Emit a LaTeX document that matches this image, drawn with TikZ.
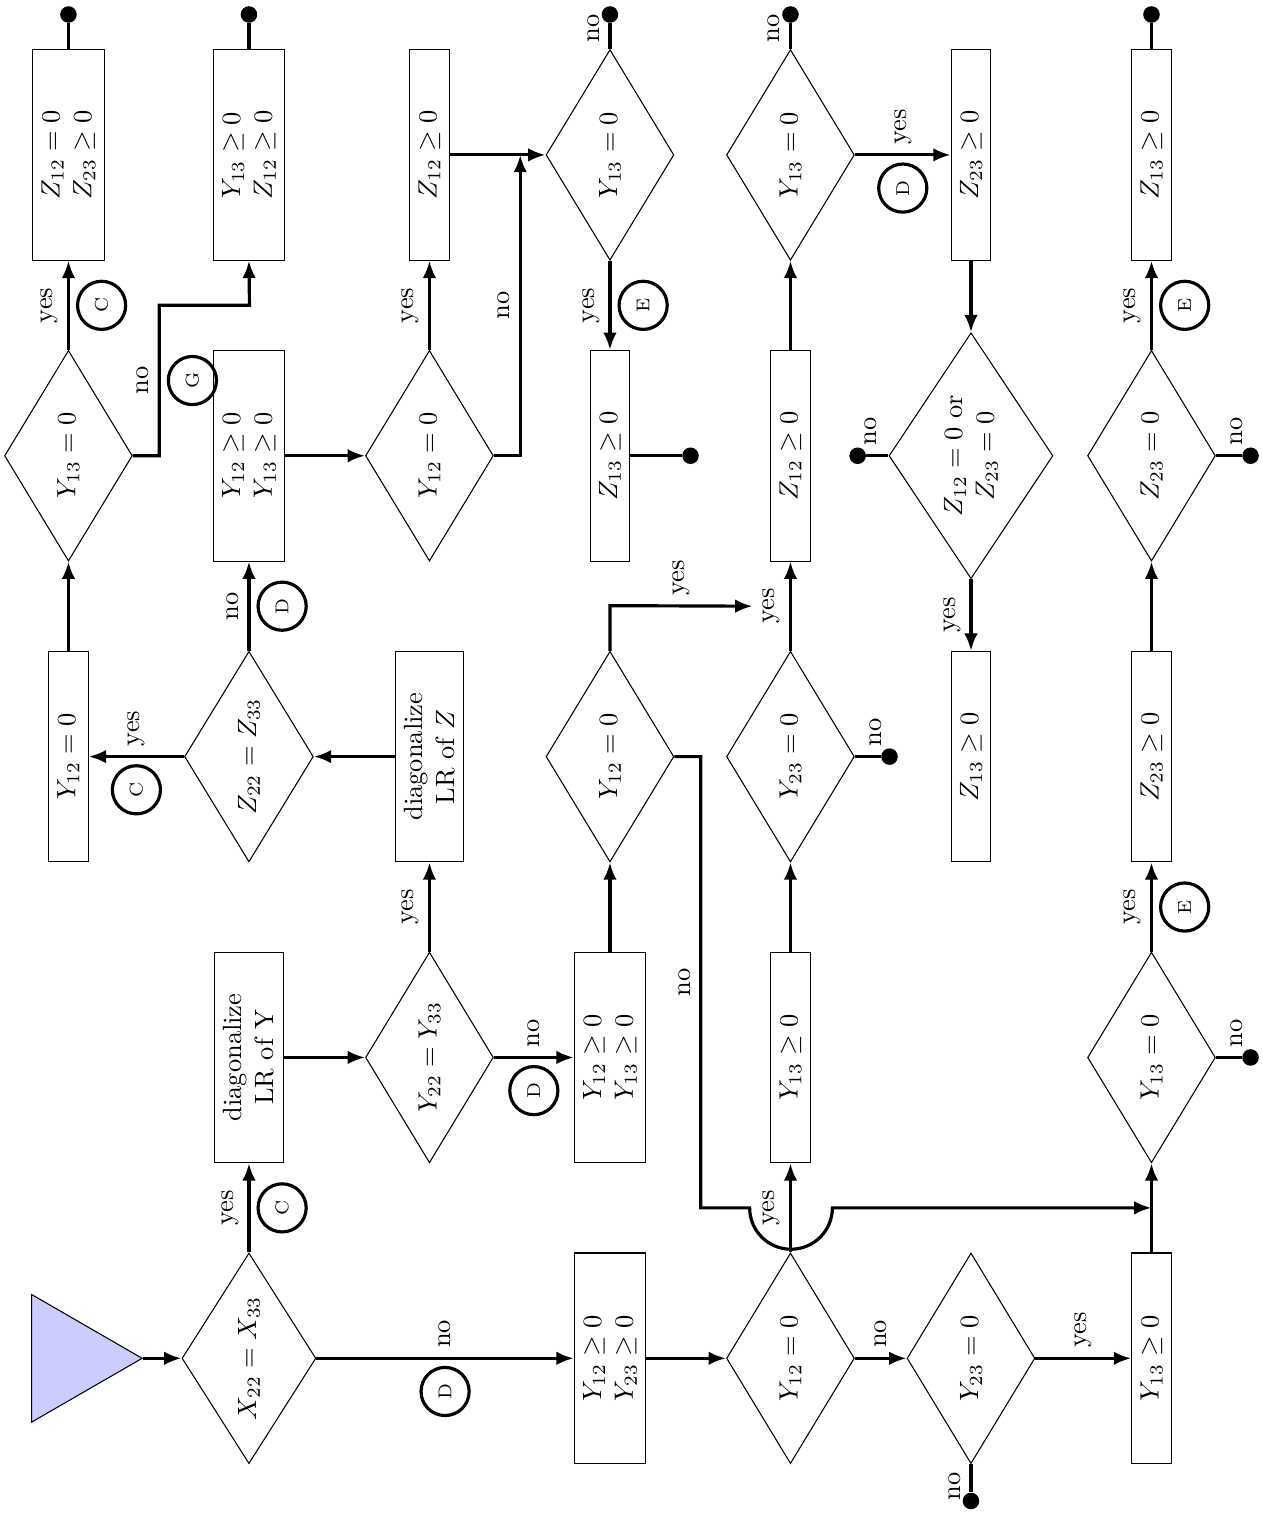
\documentclass[tikz,border=0pt]{standalone}
\usetikzlibrary{arrows.meta,calc,shapes.geometric}

\begin{document}
\begin{tikzpicture}[rotate=90, transform shape, >={Latex[length=2.3mm,width=1.8mm]},
  proc/.style={draw, rectangle, minimum width=2.8cm, align=center},
  cond/.style={draw, diamond, aspect=1.5, minimum width=2.8cm, minimum height=1.7cm, align=center},
  link/.style={very thick, ->},
  stub/.style={very thick},
  enddot/.style={circle, fill, inner sep=0pt, minimum size=2.2mm},
  casetag/.style={circle, draw, very thick, inner sep=0pt, minimum size=6.4mm, font=\scriptsize}]
  \useasboundingbox (-2.07,-13.47) rectangle (18.06,3.31);

  % Start marker.
  \node[regular polygon, regular polygon sides=3, shape border rotate=180, draw, fill=blue!20,
        minimum size=1.96cm, inner sep=0pt] (start) at (0,2.4) {};

  % First column of tests.
  \node[cond] (x22) at (0,0) {$X_{22} = X_{33}$};
  \node[proc] (y12y23) at (0,-4.8) {$Y_{12} \geq 0$\\ $Y_{23} \geq 0$};
  \node[cond] (y12a) at (0,-7.2) {$Y_{12} = 0$};
  \node[cond] (y23a) at (0,-9.6) {$Y_{23} = 0$};
  \node[proc] (y13ge) at (0,-12) {$Y_{13} \geq 0$};

  % Second column.
  \node[proc] (diagY) at (4,0) {diagonalize\\ LR of Y};
  \node[cond] (y22) at (4,-2.4) {$Y_{22} = Y_{33}$};
  \node[proc] (y12y13a) at (4,-4.8) {$Y_{12} \geq 0$\\ $Y_{13} \geq 0$};
  \node[proc] (y13gea) at (4,-7.2) {$Y_{13} \geq 0$};
  \node[cond] (y13a) at (4,-12) {$Y_{13} = 0$};

  % Third column.
  \node[proc] (y12eq) at (8,2.4) {$Y_{12} = 0$};
  \node[cond] (z22) at (8,0) {$Z_{22} = Z_{33}$};
  \node[proc] (diagZ) at (8,-2.4) {diagonalize\\ LR of $Z$};
  \node[cond] (y12b) at (8,-4.8) {$Y_{12} = 0$};
  \node[cond] (y23b) at (8,-7.2) {$Y_{23} = 0$};
  \node[proc] (z13gea) at (8,-9.6) {$Z_{13} \geq 0$};
  \node[proc] (z23gea) at (8,-12) {$Z_{23} \geq 0$};

  % Fourth column.
  \node[cond] (y13b) at (12,2.4) {$Y_{13} = 0$};
  \node[proc] (y12y13b) at (12,0) {$Y_{12} \geq 0$\\ $Y_{13} \geq 0$};
  \node[cond] (y12c) at (12,-2.4) {$Y_{12} = 0$};
  \node[proc] (z13geb) at (12,-4.8) {$Z_{13} \geq 0$};
  \node[proc] (z12gea) at (12,-7.2) {$Z_{12} \geq 0$};
  \node[cond] (zor) at (12,-9.6) {$Z_{12} = 0$ or\\ $Z_{23} = 0$};
  \node[cond] (z23) at (12,-12) {$Z_{23} = 0$};

  % Last column.
  \node[proc] (z12z23) at (16,2.4) {$Z_{12} = 0$\\ $Z_{23} \geq 0$};
  \node[proc] (y13z12) at (16,0) {$Y_{13} \geq 0$\\ $Z_{12} \geq 0$};
  \node[proc] (z12geb) at (16,-2.4) {$Z_{12} \geq 0$};
  \node[cond] (y13c) at (16,-4.8) {$Y_{13} = 0$};
  \node[cond] (y13d) at (16,-7.2) {$Y_{13} = 0$};
  \node[proc] (z23geb) at (16,-9.6) {$Z_{23} \geq 0$};
  \node[proc] (z13gec) at (16,-12) {$Z_{13} \geq 0$};

  % End points.
  \node[enddot] (end1) at ($(z12z23.east)+(0.46,0)$) {};
  \node[enddot] (end2) at ($(y13z12.east)+(0.46,0)$) {};
  \node[enddot] (end3) at ($(y13c.east)+(0.46,0)$) {};
  \node[enddot] (end4) at ($(y13d.east)+(0.46,0)$) {};
  \node[enddot] (end5) at ($(z13gec.east)+(0.46,0)$) {};
  \node[enddot] (end6) at ($(z13geb.south)+(0,-0.8)$) {};
  \node[enddot] (end7) at ($(zor.north)+(0,0.41)$) {};
  \node[enddot] (end8) at ($(z23.south)+(0,-0.46)$) {};
  \node[enddot] (end9) at ($(y23b.south)+(0,-0.46)$) {};
  \node[enddot] (end10) at ($(y13a.south)+(0,-0.46)$) {};
  \node[enddot] (end11) at ($(y23a.west)+(-0.49,0)$) {};
  \coordinate (join1) at ($(y13ge.east)!.5!(y13a.west)$);

  % Connectors, first column.
  \draw[link] (start) -- (x22);
  \draw[link] (x22.east) -- (diagY.west) node[midway,above] (l1) {yes}
    node[midway,below=1mm,casetag] (t1) {C};
  \draw[link] (x22.south) -- (y12y23.north) node[midway,right] (l2) {no}
    node[midway,left=1mm,casetag] (t2) {D};
  \draw[link] (y12y23.south) -- (y12a.north);
  \draw[link] (y12a.south) -- (y23a.north) node[midway,right] (l3) {no};
  \draw[link] (y23a.south) -- (y13ge.north) node[midway,right] (l4) {yes};
  \draw[stub] (y23a.west) -- (end11) node[pos=0.8,above] (l5) {no};
  \draw[link] (y12a.east) -- (y13gea.west) node[midway,above] (l6) {yes};
  \draw[link] (y13ge.east) -- (y13a.west);

  % Second column.
  \draw[link] (diagY.south) -- (y22.north);
  \draw[link] (y22.east) -- (diagZ.west) node[midway,above] (l7) {yes};
  \draw[link] (y22.south) -- (y12y13a.north) node[midway,right] (l8) {no}
    node[midway,left=1mm,casetag] (t3) {D};
  \draw[link] (y12y13a.east) -- (y12b.west);
  \draw[link] (y13gea.east) -- (y23b.west);
  \draw[link] (y13a.east) -- (z23gea.west) node[midway,above] (l9) {yes}
    node[midway,below=1mm,casetag] (t4) {E};
  \draw[stub] (y13a.south) -- (end10) node[pos=0.8,right] (l10) {no};

  % Third column.
  \draw[link] (diagZ.north) -- (z22.south);
  \draw[link] (z22.north) -- (y12eq.south) node[midway,right] (l11) {yes}
    node[midway,left=1mm,casetag] (t5) {C};
  \draw[link] (z22.east) -- (y12y13b.west) node[midway,above] (l12) {no}
    node[midway,below=1mm,casetag] (t6) {D};
  \draw[link] (y12eq.east) -- (y13b.west);
  \draw[link] (y23b.east) -- (z12gea.west) node[midway,above] (l13) {yes};
  \draw[link] (y12b.east) -- ++(0.6,0) -- (l13.north) node[midway,right] (l14) {yes};
  % The no branch jumps over the yes line on its way down.
  \draw[link] (y12b.south) -- ++(0,-0.35) -- ++(-6,0) node[midway,above] (l15) {no}
    -- ++(0,-0.65) arc[start angle=90, end angle=270, radius=0.55] -- (join1);
  \draw[stub] (y23b.south) -- (end9) node[pos=0.8,right] (l16) {no};
  \draw[link] (z23gea.east) -- (z23.west);

  % Fourth column.
  \draw[link] (y13b.east) -- (z12z23.west) node[midway,above] (l17) {yes}
    node[midway,below=1mm,casetag] (t7) {C};
  \draw[link] (y13b.south) -- ++(0,-0.35) -- ++(2,0) node[midway,above] (l18) {no}
    node[midway,below=1mm,casetag] (t8) {G} -- ++(0,-1.2) -- (y13z12.west);
  \draw[link] (y12y13b.south) -- (y12c.north);
  \draw[link] (y12c.east) -- (z12geb.west) node[midway,above] (l19) {yes};
  \draw[link] (y12c.south) -- ++(0,-0.35) -- ++(4,0) node[midway,above] (l20) {no};
  \draw[stub] (z13geb.south) -- (end6);
  \draw[link] (z12gea.east) -- (y13d.west);
  \draw[stub] (zor.north) -- (end7) node[pos=0.8,right] (l21) {no};
  \draw[link] (zor.west) -- (z13gea.east) node[midway,above] (l22) {yes};
  \draw[link] (z23.east) -- (z13gec.west) node[midway,above] (l23) {yes}
    node[midway,below=1mm,casetag] (t9) {E};
  \draw[stub] (z23.south) -- (end8) node[pos=0.8,right] (l24) {no};

  % Last column.
  \draw[stub] (z12z23.east) -- (end1);
  \draw[stub] (y13z12.east) -- (end2);
  \draw[link] (z12geb.south) -- (y13c.north);
  \draw[stub] (y13c.east) -- (end3) node[pos=0.8,above] (l25) {no};
  \draw[link] (y13c.west) -- (z13geb.east) node[midway,above] (l26) {yes}
    node[midway,below=1mm,casetag] (t10) {E};
  \draw[stub] (y13d.east) -- (end4) node[pos=0.8,above] (l27) {no};
  \draw[link] (y13d.south) -- (z23geb.north) node[midway,right] (l28) {yes}
    node[midway,left=1mm,casetag] (t11) {D};
  \draw[link] (z23geb.west) -- (zor.east);
  \draw[stub] (z13gec.east) -- (end5);
\end{tikzpicture}
\end{document}
